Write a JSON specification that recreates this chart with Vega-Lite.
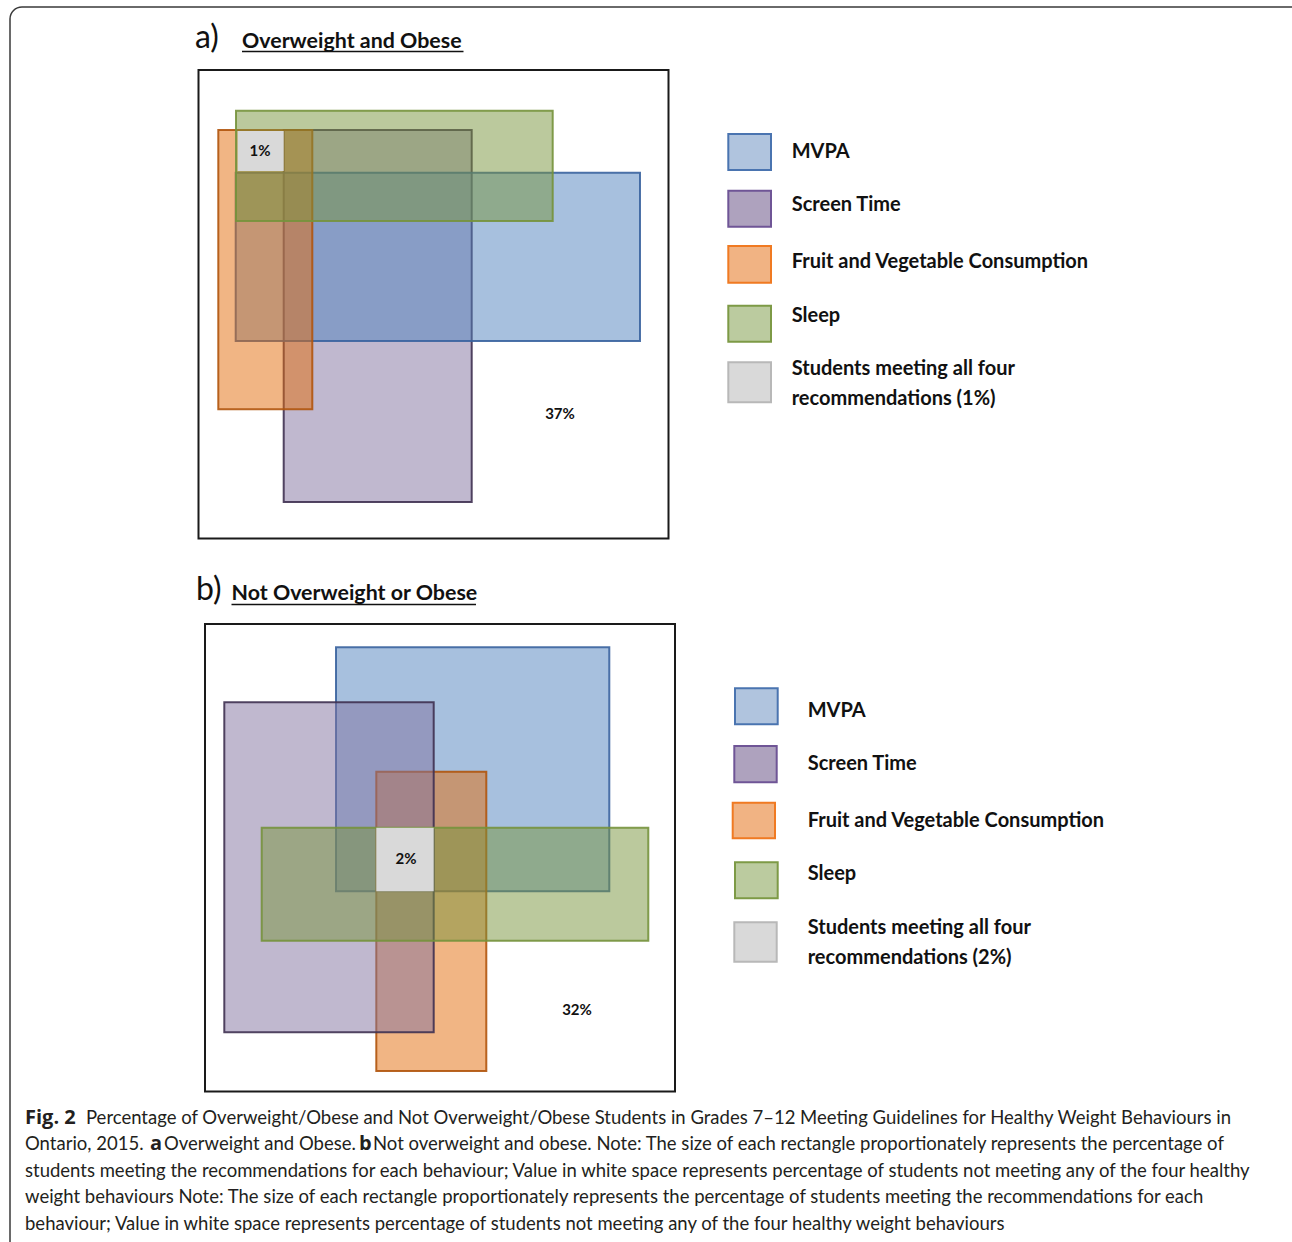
{
  "$schema": "https://vega.github.io/schema/vega-lite/v6.json",
  "width": 1292,
  "height": 1242,
  "autosize": {"type": "fit", "contains": "padding"},
  "padding": 0,
  "background": "white",
  "config": {"view": {"stroke": null}},
  "resolve": {"scale": {"fill": "independent", "stroke": "independent"}},
  "layer": [
    {
      "data": {"values": [{"x0": 10, "x1": 1320, "y0": 7, "y1": 1270}]},
      "mark": {"type": "rect", "fill": null, "stroke": "#3a3a3a", "strokeWidth": 1.5, "cornerRadius": 12, "clip": true},
      "encoding": {
        "x": {"field": "x0", "type": "quantitative", "scale": {"domain": [0, 1292], "nice": false, "zero": false}, "axis": null},
        "x2": {"field": "x1"},
        "y": {"field": "y0", "type": "quantitative", "scale": {"domain": [0, 1242], "nice": false, "zero": false, "reverse": true}, "axis": null},
        "y2": {"field": "y1"}
      }
    },
    {
      "data": {"values": [
        {"panel": "a", "x0": 198.5, "x1": 668.5, "y0": 70, "y1": 538.5},
        {"panel": "b", "x0": 205, "x1": 675, "y0": 624, "y1": 1091.5}
      ]},
      "mark": {"type": "rect", "fill": null, "stroke": "#1a1a1a", "strokeWidth": 2},
      "encoding": {
        "x": {"field": "x0", "type": "quantitative", "scale": {"domain": [0, 1292], "nice": false, "zero": false}, "axis": null},
        "x2": {"field": "x1"},
        "y": {"field": "y0", "type": "quantitative", "scale": {"domain": [0, 1242], "nice": false, "zero": false, "reverse": true}, "axis": null},
        "y2": {"field": "y1"}
      }
    },
    {
      "data": {"values": [
        {"panel": "a", "behaviour": "Screen Time", "x0": 283.7, "x1": 471.7, "y0": 130, "y1": 502},
        {"panel": "a", "behaviour": "MVPA", "x0": 235.7, "x1": 640, "y0": 172.7, "y1": 341},
        {"panel": "a", "behaviour": "Fruit and Vegetable Consumption", "x0": 218.3, "x1": 312.3, "y0": 130, "y1": 409.3},
        {"panel": "a", "behaviour": "Sleep", "x0": 236, "x1": 552.7, "y0": 110.7, "y1": 221},
        {"panel": "b", "behaviour": "MVPA", "x0": 336, "x1": 609.3, "y0": 647.3, "y1": 891.3},
        {"panel": "b", "behaviour": "Fruit and Vegetable Consumption", "x0": 376.3, "x1": 486.3, "y0": 771.7, "y1": 1071},
        {"panel": "b", "behaviour": "Screen Time", "x0": 224.3, "x1": 433.7, "y0": 702.3, "y1": 1032.3},
        {"panel": "b", "behaviour": "Sleep", "x0": 261.7, "x1": 648.3, "y0": 827.7, "y1": 940.7}
      ]},
      "mark": {"type": "rect", "fillOpacity": 0.5, "strokeWidth": 2, "strokeOpacity": 0.9},
      "encoding": {
        "x": {"field": "x0", "type": "quantitative", "scale": {"domain": [0, 1292], "nice": false, "zero": false}, "axis": null},
        "x2": {"field": "x1"},
        "y": {"field": "y0", "type": "quantitative", "scale": {"domain": [0, 1242], "nice": false, "zero": false, "reverse": true}, "axis": null},
        "y2": {"field": "y1"},
        "fill": {"field": "behaviour", "type": "nominal", "legend": null,
          "scale": {"domain": ["MVPA", "Screen Time", "Fruit and Vegetable Consumption", "Sleep"], "range": ["#4F81BD", "#8272A0", "#E46C0A", "#77933C"]}},
        "stroke": {"field": "behaviour", "type": "nominal", "legend": null,
          "scale": {"domain": ["MVPA", "Screen Time", "Fruit and Vegetable Consumption", "Sleep"], "range": ["#3A639E", "#3F3151", "#B0540C", "#76923C"]}}
      }
    },
    {
      "data": {"values": [
        {"panel": "a", "x0": 237.7, "x1": 283.7, "y0": 131, "y1": 171},
        {"panel": "b", "x0": 376.3, "x1": 433.7, "y0": 827.7, "y1": 891.3}
      ]},
      "mark": {"type": "rect", "fill": "#D9D9D9", "stroke": null},
      "encoding": {
        "x": {"field": "x0", "type": "quantitative", "scale": {"domain": [0, 1292], "nice": false, "zero": false}, "axis": null},
        "x2": {"field": "x1"},
        "y": {"field": "y0", "type": "quantitative", "scale": {"domain": [0, 1242], "nice": false, "zero": false, "reverse": true}, "axis": null},
        "y2": {"field": "y1"}
      }
    },
    {
      "data": {"values": [
        {"panel": "a", "item": "MVPA", "x0": 728.3, "x1": 771, "y0": 134, "y1": 170},
        {"panel": "a", "item": "Screen Time", "x0": 728.3, "x1": 771, "y0": 190.7, "y1": 226.7},
        {"panel": "a", "item": "Fruit and Vegetable Consumption", "x0": 728.3, "x1": 771, "y0": 246, "y1": 282.7},
        {"panel": "a", "item": "Sleep", "x0": 728.3, "x1": 771, "y0": 305.7, "y1": 341.7},
        {"panel": "a", "item": "All four", "x0": 728.3, "x1": 771, "y0": 362.3, "y1": 402.3},
        {"panel": "b", "item": "MVPA", "x0": 735, "x1": 777.7, "y0": 688.3, "y1": 724.3},
        {"panel": "b", "item": "Screen Time", "x0": 734.3, "x1": 776.7, "y0": 746, "y1": 782.3},
        {"panel": "b", "item": "Fruit and Vegetable Consumption", "x0": 732.7, "x1": 775, "y0": 802.7, "y1": 838.3},
        {"panel": "b", "item": "Sleep", "x0": 735, "x1": 777.7, "y0": 862.3, "y1": 898.3},
        {"panel": "b", "item": "All four", "x0": 734.3, "x1": 776.7, "y0": 922.3, "y1": 961.7}
      ]},
      "mark": {"type": "rect", "strokeWidth": 2},
      "encoding": {
        "x": {"field": "x0", "type": "quantitative", "scale": {"domain": [0, 1292], "nice": false, "zero": false}, "axis": null},
        "x2": {"field": "x1"},
        "y": {"field": "y0", "type": "quantitative", "scale": {"domain": [0, 1242], "nice": false, "zero": false, "reverse": true}, "axis": null},
        "y2": {"field": "y1"},
        "fill": {"field": "item", "type": "nominal", "legend": null,
          "scale": {"domain": ["MVPA", "Screen Time", "Fruit and Vegetable Consumption", "Sleep", "All four"], "range": ["#B0C4DE", "#AEA2BE", "#F1B383", "#BBCB9F", "#D9D9D9"]}},
        "stroke": {"field": "item", "type": "nominal", "legend": null,
          "scale": {"domain": ["MVPA", "Screen Time", "Fruit and Vegetable Consumption", "Sleep", "All four"], "range": ["#4A74B0", "#6F5596", "#F07A22", "#7D9A46", "#B8B8B8"]}}
      }
    },
    {
      "data": {"values": [
        {"panel": "a", "x0": 242, "x1": 463.5, "y0": 51.5},
        {"panel": "b", "x0": 231.5, "x1": 476, "y0": 604.5}
      ]},
      "mark": {"type": "rule", "stroke": "#111111", "strokeWidth": 1.6},
      "encoding": {
        "x": {"field": "x0", "type": "quantitative", "scale": {"domain": [0, 1292], "nice": false, "zero": false}, "axis": null},
        "x2": {"field": "x1"},
        "y": {"field": "y0", "type": "quantitative", "scale": {"domain": [0, 1242], "nice": false, "zero": false, "reverse": true}, "axis": null}
      }
    },
    {
      "data": {"values": [
        {"panel": "a", "label": "a)", "x": 195, "y": 48},
        {"panel": "b", "label": "b)", "x": 196, "y": 600}
      ]},
      "mark": {"type": "text", "align": "left", "baseline": "alphabetic", "font": "Lato", "fontSize": 32, "fontWeight": "normal", "color": "#111111"},
      "encoding": {
        "x": {"field": "x", "type": "quantitative", "scale": {"domain": [0, 1292], "nice": false, "zero": false}, "axis": null},
        "y": {"field": "y", "type": "quantitative", "scale": {"domain": [0, 1242], "nice": false, "zero": false, "reverse": true}, "axis": null},
        "text": {"field": "label"}
      }
    },
    {
      "data": {"values": [
        {"panel": "a", "label": "Overweight and Obese", "x": 242, "y": 48},
        {"panel": "b", "label": "Not Overweight or Obese", "x": 231.5, "y": 600}
      ]},
      "mark": {"type": "text", "align": "left", "baseline": "alphabetic", "font": "Lato", "fontSize": 21.4, "fontWeight": "bold", "color": "#111111"},
      "encoding": {
        "x": {"field": "x", "type": "quantitative", "scale": {"domain": [0, 1292], "nice": false, "zero": false}, "axis": null},
        "y": {"field": "y", "type": "quantitative", "scale": {"domain": [0, 1242], "nice": false, "zero": false, "reverse": true}, "axis": null},
        "text": {"field": "label"}
      }
    },
    {
      "data": {"values": [
        {"panel": "a", "label": "MVPA", "x": 791.7, "y": 157.7},
        {"panel": "a", "label": "Screen Time", "x": 791.7, "y": 210.7},
        {"panel": "a", "label": "Fruit and Vegetable Consumption", "x": 791.7, "y": 267.7},
        {"panel": "a", "label": "Sleep", "x": 791.7, "y": 322},
        {"panel": "a", "label": "Students meeting all four", "x": 791.7, "y": 375},
        {"panel": "a", "label": "recommendations (1%)", "x": 791.7, "y": 405},
        {"panel": "b", "label": "MVPA", "x": 807.7, "y": 716.7},
        {"panel": "b", "label": "Screen Time", "x": 807.7, "y": 770},
        {"panel": "b", "label": "Fruit and Vegetable Consumption", "x": 807.7, "y": 826.7},
        {"panel": "b", "label": "Sleep", "x": 807.7, "y": 880},
        {"panel": "b", "label": "Students meeting all four", "x": 807.7, "y": 934.3},
        {"panel": "b", "label": "recommendations (2%)", "x": 807.7, "y": 964}
      ]},
      "mark": {"type": "text", "align": "left", "baseline": "alphabetic", "font": "Lato", "fontSize": 20, "fontWeight": "bold", "color": "#111111"},
      "encoding": {
        "x": {"field": "x", "type": "quantitative", "scale": {"domain": [0, 1292], "nice": false, "zero": false}, "axis": null},
        "y": {"field": "y", "type": "quantitative", "scale": {"domain": [0, 1242], "nice": false, "zero": false, "reverse": true}, "axis": null},
        "text": {"field": "label"}
      }
    },
    {
      "data": {"values": [
        {"panel": "a", "label": "1%", "x": 260, "y": 150.5},
        {"panel": "a", "label": "37%", "x": 560, "y": 413.5},
        {"panel": "b", "label": "2%", "x": 406, "y": 858.5},
        {"panel": "b", "label": "32%", "x": 577, "y": 1009.5}
      ]},
      "mark": {"type": "text", "align": "center", "baseline": "middle", "font": "Lato", "fontSize": 15, "fontWeight": "bold", "color": "#111111"},
      "encoding": {
        "x": {"field": "x", "type": "quantitative", "scale": {"domain": [0, 1292], "nice": false, "zero": false}, "axis": null},
        "y": {"field": "y", "type": "quantitative", "scale": {"domain": [0, 1242], "nice": false, "zero": false, "reverse": true}, "axis": null},
        "text": {"field": "label"}
      }
    },
    {
      "data": {"values": [
        {"line": 1, "text": "Fig. 2", "x": 25, "y": 1123.5},
        {"line": 2, "text": "a", "x": 150, "y": 1150},
        {"line": 2, "text": "b", "x": 359, "y": 1150}
      ]},
      "mark": {"type": "text", "align": "left", "baseline": "alphabetic", "font": "Open Sans", "fontSize": 20, "fontWeight": "bold", "color": "#231F20"},
      "encoding": {
        "x": {"field": "x", "type": "quantitative", "scale": {"domain": [0, 1292], "nice": false, "zero": false}, "axis": null},
        "y": {"field": "y", "type": "quantitative", "scale": {"domain": [0, 1242], "nice": false, "zero": false, "reverse": true}, "axis": null},
        "text": {"field": "text"}
      }
    },
    {
      "data": {"values": [
        {"line": 1, "text": "Percentage of Overweight/Obese and Not Overweight/Obese Students in Grades 7–12 Meeting Guidelines for Healthy Weight Behaviours in", "x": 86, "y": 1123.5},
        {"line": 2, "text": "Ontario, 2015.", "x": 25, "y": 1150},
        {"line": 2, "text": "Overweight and Obese.", "x": 164, "y": 1150},
        {"line": 2, "text": "Not overweight and obese. Note: The size of each rectangle proportionately represents the percentage of", "x": 373, "y": 1150},
        {"line": 3, "text": "students meeting the recommendations for each behaviour; Value in white space represents percentage of students not meeting any of the four healthy", "x": 25, "y": 1176.5},
        {"line": 4, "text": "weight behaviours Note: The size of each rectangle proportionately represents the percentage of students meeting the recommendations for each", "x": 25, "y": 1203},
        {"line": 5, "text": "behaviour; Value in white space represents percentage of students not meeting any of the four healthy weight behaviours", "x": 25, "y": 1229.5}
      ]},
      "mark": {"type": "text", "align": "left", "baseline": "alphabetic", "font": "Lato", "fontSize": 18.5, "fontWeight": "normal", "color": "#231F20"},
      "encoding": {
        "x": {"field": "x", "type": "quantitative", "scale": {"domain": [0, 1292], "nice": false, "zero": false}, "axis": null},
        "y": {"field": "y", "type": "quantitative", "scale": {"domain": [0, 1242], "nice": false, "zero": false, "reverse": true}, "axis": null},
        "text": {"field": "text"}
      }
    }
  ]
}
